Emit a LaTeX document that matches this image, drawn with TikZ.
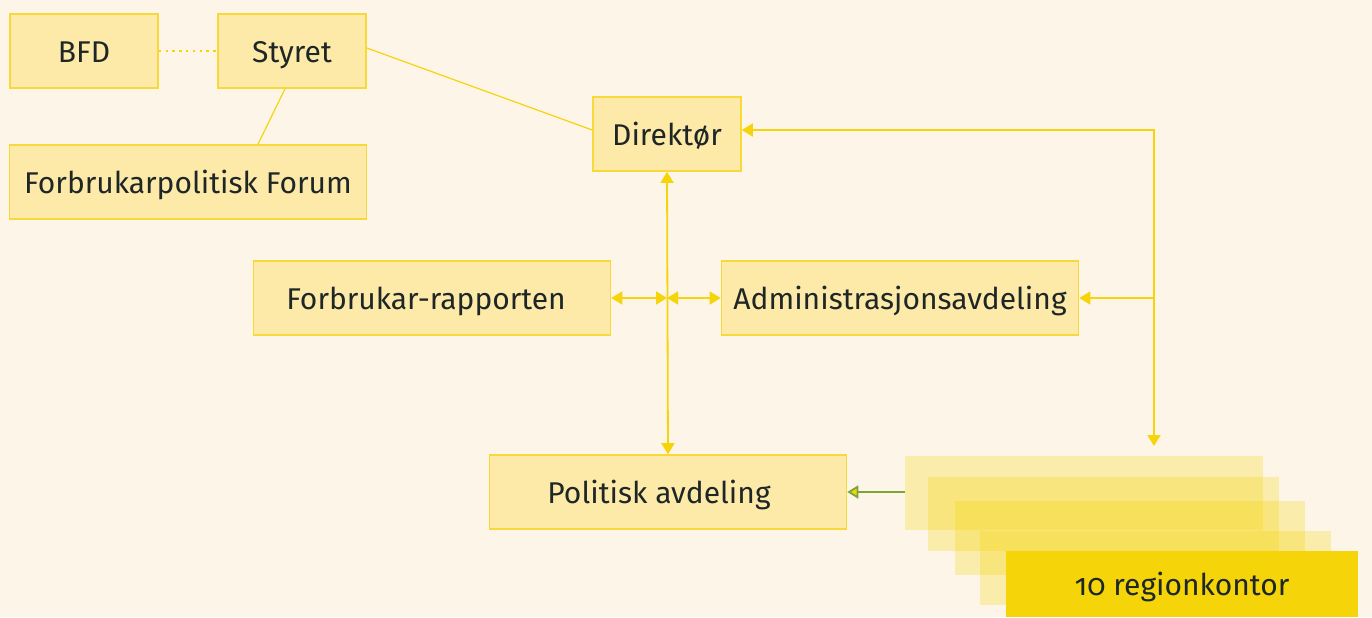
\documentclass[tikz,border=0pt]{standalone}
\usepackage{fontspec}
\setmainfont[Numbers=OldStyle]{Fira Sans}
\usetikzlibrary{arrows.meta}
\definecolor{bgcream}{HTML}{FDF5E8}
\definecolor{boxfill}{HTML}{FDEAA9}
\definecolor{boxline}{HTML}{F7D93A}
\definecolor{linkyel}{HTML}{F5D50A}
\definecolor{linkgreen}{HTML}{7AA53A}
\definecolor{txtdark}{HTML}{1E2626}

\begin{document}
\begin{tikzpicture}[
  x=0.5pt, y=-0.5pt,
  >={Triangle[length=5.5pt,width=6.5pt]},
  label/.style={font=\fontsize{15}{17}\selectfont, text=txtdark, text height=12pt, text depth=1pt},
  unit/.style={label, draw=boxline, line width=0.8pt, fill=boxfill, minimum height=37pt, inner sep=0pt},
  small/.style={unit, minimum width=74pt},
  wide/.style={unit, minimum width=178.5pt},
  region/.style={fill=linkyel, fill opacity=0.28, inner sep=0pt},
  link/.style={draw=linkyel, line width=0.9pt},
  ar/.style={link, ->},
  biar/.style={link, <->}
]
\useasboundingbox[fill=bgcream] (0,0) rectangle (1372,617);

\node[small] (bfd) at (84,51) {BFD};
\node[small] (sty) at (292,51) {Styret};
\node[wide] (forum) at (188,182) {Forbrukarpolitisk Forum};
\node[small] (dir) at (667,134) {Direktør};
\node[wide] (rap) at (432,298) {Forbrukar-rapporten\hspace*{6pt}};
\node[wide] (adm) at (900,298) {Administrasjonsavdeling};
\node[wide] (pol) at (668,492) {Politisk avdeling\hspace*{9pt}};

% stacked region offices
\foreach \n/\x/\y/\w in {1/1084/493/358, 2/1103.5/513.5/351, 3/1130/538/350, 4/1155.5/568/351}
  \node[region, minimum width=\w*0.5pt, minimum height=37pt] (r\n) at (\x,\y) {};
\node[label, fill=linkyel, inner sep=0pt, minimum width=176pt, minimum height=33pt] (r5) at (1182,584) {10 regionkontor};

\coordinate (mid) at (dir.south |- rap.east);
\coordinate (rin) at (1154,446);

\draw[link, dash pattern=on 1.2pt off 2.2pt] (bfd) -- (sty);
\draw[link, line width=0.6pt] ([yshift=1.5pt]sty.east) -- ([yshift=2pt]dir.west);
\draw[link, line width=0.6pt] ([xshift=-3.5pt]sty.south) -- ([xshift=35pt]forum.north);
\draw[biar] (dir.south) -- (pol.north);
\draw[biar] (rap.east) -- (mid);
\draw[biar] (mid) -- (adm.west);
\draw[biar] ([yshift=2pt]dir.east) -| (rin);
\draw[ar] (rin |- adm.east) -- (adm.east);
\draw[link, draw=linkgreen, -{Triangle[length=5.5pt,width=6.5pt,fill=linkyel]}] (pol.east -| r1.west) -- (pol.east);
\end{tikzpicture}
\end{document}
